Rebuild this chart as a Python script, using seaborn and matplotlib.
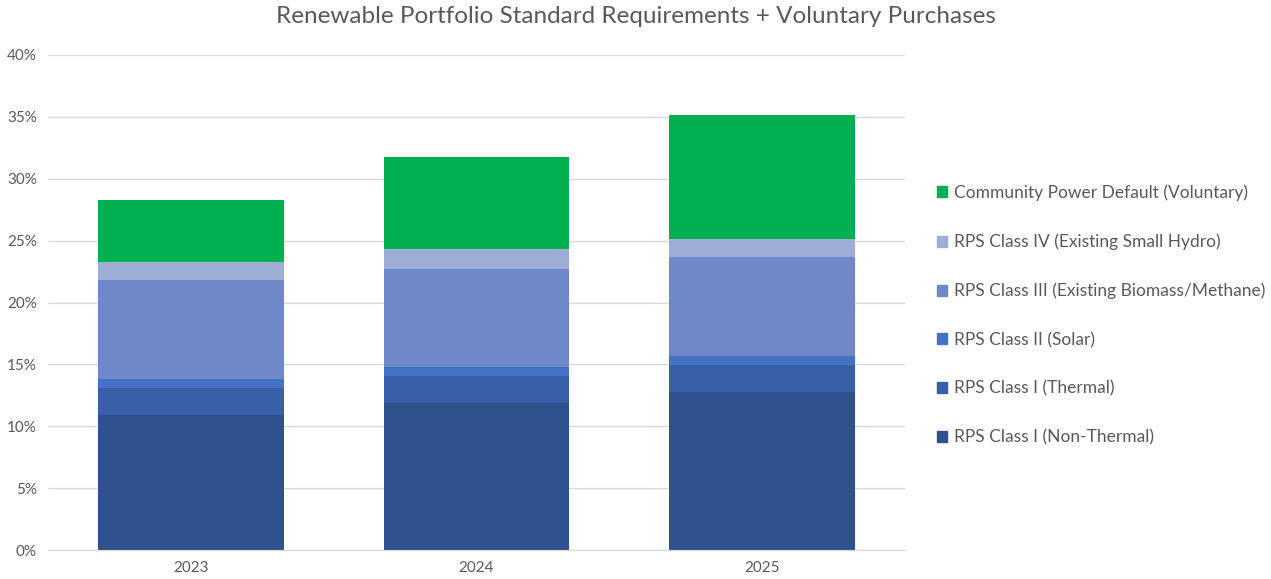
import numpy as np
import pandas as pd
import matplotlib
matplotlib.use("Agg")
import matplotlib.pyplot as plt
import matplotlib.patches as mpatches
import seaborn as sns
from matplotlib.ticker import PercentFormatter

years = ["2023", "2024", "2025"]
series = [
    "RPS Class I (Non-Thermal)",
    "RPS Class I (Thermal)",
    "RPS Class II (Solar)",
    "RPS Class III (Existing Biomass/Methane)",
    "RPS Class IV (Existing Small Hydro)",
    "Community Power Default (Voluntary)",
]
non_thermal = [10.9, 11.85, 12.75]
thermal = [2.2, 2.2, 2.2]
solar = [0.7, 0.72, 0.7]
class_iii = [8.0, 7.95, 8.0]
class_iv = [1.5, 1.57, 1.5]
voluntary = [5.0, 7.5, 10.0]
colors = ["#2F528F", "#3760A7", "#4472C4", "#6E88CA", "#9DADD8", "#00B050"]

values = [non_thermal, thermal, solar, class_iii, class_iv, voluntary]
cum = np.cumsum(np.array(values), axis=0)

sns.set_style("white")
plt.rcParams["font.family"] = ["Lato", "DejaVu Sans"]

fig = plt.figure(figsize=(12.71, 5.79), dpi=100)
ax = fig.add_axes([48 / 1271, 1 - 550 / 579, (905 - 48) / 1271, (550 - 55) / 579])

# draw tallest stack first so lower segments overlay
for i in range(len(series) - 1, -1, -1):
    sns.barplot(x=years, y=cum[i], color=colors[i], width=0.65, ax=ax,
                saturation=1, linewidth=0, zorder=2)

ax.set_ylim(0, 40)
ax.set_xlim(-0.5, 2.5)
ax.set_yticks(range(0, 41, 5))
ax.yaxis.set_major_formatter(PercentFormatter(decimals=0))
ax.grid(axis="y", color="#d9d9d9", linewidth=1, zorder=0)
ax.set_axisbelow(True)
for s in ["left", "right", "top"]:
    ax.spines[s].set_visible(False)
ax.spines["bottom"].set_color("#d9d9d9")
ax.tick_params(axis="both", length=0, colors="#595959", labelsize=11, pad=8)
ax.set_xlabel("")
ax.set_ylabel("")

fig.suptitle("Renewable Portfolio Standard Requirements + Voluntary Purchases",
             x=0.5, y=0.99, fontsize=17.5, color="#595959")

handles = [mpatches.Patch(color=colors[i], label=series[i]) for i in range(len(series) - 1, -1, -1)]
fig.legend(handles=handles, loc="center left", bbox_to_anchor=(921 / 1271, 1 - 315 / 579),
           frameon=False, fontsize=12.5, labelspacing=1.88, handlelength=0.6,
           handleheight=0.6, handletextpad=0.4, labelcolor="#595959")

fig.savefig("out.png", dpi=100)
